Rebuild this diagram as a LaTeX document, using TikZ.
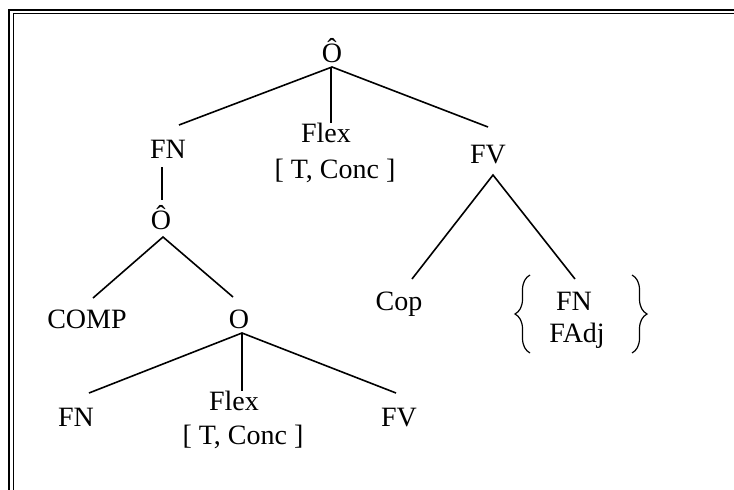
\documentclass[tikz,border=0pt]{standalone}
\usepackage{fontspec}
\setmainfont{Liberation Serif}
\usetikzlibrary{decorations.pathreplacing}
\begin{document}
\begin{tikzpicture}[x=1pt,y=-1pt,
  lbl/.style={anchor=base,inner sep=0pt,font=\fontsize{28}{33}\selectfont},
  edge/.style={line width=1.6pt},
  brc/.style={line width=1.2pt,decorate,decoration={brace,amplitude=15pt,aspect=0.5}}]
\useasboundingbox (0,0) rectangle (734,490);
% frame
\draw[line width=2pt] (9.3,490) -- (9.3,9.5) -- (734,9.5);
\draw[line width=1pt] (13,490) -- (13,13.3) -- (734,13.3);
% labels
\node[lbl] (root) at (332,62) {Ô};
\node[lbl] (fn1) at (168,158) {FN};
\node[lbl] (flex1) at (326,142) {Flex};
\node[lbl] (conc1) at (335,178) {[ T, Conc ]};
\node[lbl] (fv1) at (488,163) {FV};
\node[lbl] (o2) at (161,229) {Ô};
\node[lbl] (comp) at (87,328) {COMP};
\node[lbl] (o3) at (239,328) {O};
\node[lbl] (fn3) at (76,426) {FN};
\node[lbl] (flex3) at (234,410) {Flex};
\node[lbl] (conc3) at (243,444) {[ T, Conc ]};
\node[lbl] (fv3) at (399,426) {FV};
\node[lbl] (cop) at (399,310) {Cop};
\node[lbl] (fnr) at (574,310) {FN};
\node[lbl] (fadj) at (577,342) {FAdj};
% connector ends
\coordinate (rootb) at (332,67);
\coordinate (fn1t) at (179,125);
\coordinate (flex1t) at (331,123);
\coordinate (fv1t) at (488,127);
\coordinate (fn1b) at (162,167);
\coordinate (o2t) at (162,200);
\coordinate (o2b) at (163,237);
\coordinate (compt) at (93,298);
\coordinate (o3t) at (233,297);
\coordinate (o3b) at (242,333);
\coordinate (fn3t) at (89,393);
\coordinate (flex3t) at (242,391);
\coordinate (fv3t) at (396,393);
\coordinate (fv1b) at (493,175);
\coordinate (copt) at (412,279);
\coordinate (fnrt) at (575,279);
% edges
\draw[edge] (fn1t) -- (rootb) -- (fv1t);
\draw[edge] (rootb) ++(-1,0) -- (flex1t);
\draw[edge] (fn1b) -- (o2t);
\draw[edge] (compt) -- (o2b) -- (o3t);
\draw[edge] (fn3t) -- (o3b) -- (fv3t);
\draw[edge] (o3b) -- (flex3t);
\draw[edge] (copt) -- (fv1b) -- (fnrt);
% braces
\coordinate (lbb) at (530,353);
\coordinate (lbt) at (530,275);
\coordinate (rbt) at (632,275);
\coordinate (rbb) at (632,353);
\draw[brc] (lbb) -- (lbt);
\draw[brc] (rbt) -- (rbb);
\end{tikzpicture}
\end{document}
